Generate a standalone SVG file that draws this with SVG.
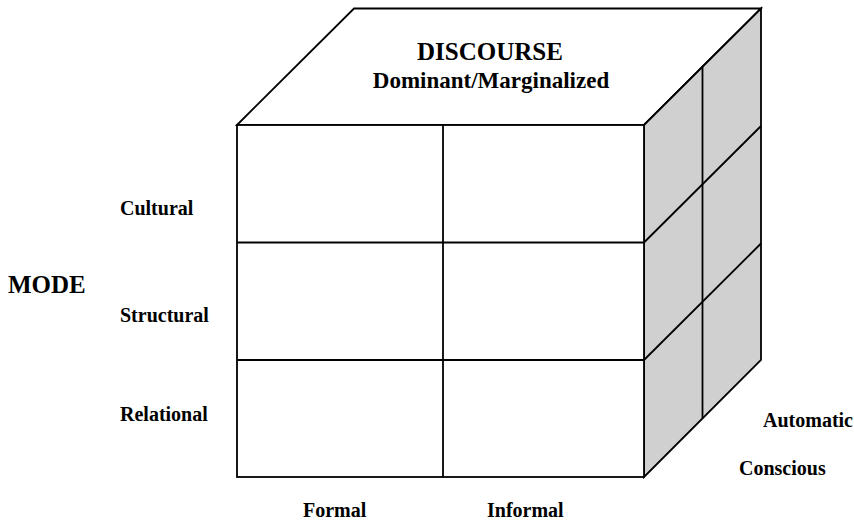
<svg xmlns="http://www.w3.org/2000/svg" width="854" height="523" viewBox="0 0 854 523">
  <style>
    .edge { fill: none; stroke: #000; stroke-width: 1.8; stroke-linejoin: miter; }
    .face { stroke: #000; stroke-width: 1.8; stroke-linejoin: miter; }
    .lbl { font-family: "Liberation Serif", "Times New Roman", serif; font-weight: bold; fill: #000; }
    .axis { font-size: 25px; }
    .tick { font-size: 20px; }
  </style>
  <rect width="854" height="523" fill="#fff"/>

  <!-- Top face: discourse -->
  <g id="top-face">
    <polygon class="face" fill="#fff" points="237,125 354,8.5 761,8.5 644,125"/>
    <text class="lbl axis" x="490" y="60" text-anchor="middle">DISCOURSE</text>
    <text class="lbl" font-size="23" x="491" y="88" text-anchor="middle">Dominant/Marginalized</text>
  </g>

  <!-- Right face: automatic / conscious -->
  <g id="side-face">
    <polygon class="face" fill="#d0d0d0" points="644,125 761,8.5 761,360 644,477"/>
    <line class="edge" x1="702.5" y1="66.75" x2="702.5" y2="418.5"/>
    <line class="edge" x1="644" y1="242.5" x2="761" y2="126"/>
    <line class="edge" x1="644" y1="360" x2="761" y2="243.5"/>
  </g>

  <!-- Front face: mode x formal/informal grid -->
  <g id="front-face">
    <rect class="face" fill="#fff" x="237" y="125" width="407" height="352"/>
    <line class="edge" x1="443" y1="125" x2="443" y2="477"/>
    <line class="edge" x1="237" y1="242.5" x2="644" y2="242.5"/>
    <line class="edge" x1="237" y1="360" x2="644" y2="360"/>
  </g>

  <!-- Mode axis labels -->
  <g id="mode-labels">
    <text class="lbl axis" x="8" y="293">MODE</text>
    <text class="lbl tick" x="120" y="215">Cultural</text>
    <text class="lbl tick" x="120" y="322">Structural</text>
    <text class="lbl tick" x="120" y="421">Relational</text>
  </g>

  <!-- Formality labels -->
  <g id="formality-labels">
    <text class="lbl tick" x="303" y="517">Formal</text>
    <text class="lbl tick" x="487" y="517">Informal</text>
  </g>

  <!-- Awareness labels -->
  <g id="awareness-labels">
    <text class="lbl tick" x="763" y="427">Automatic</text>
    <text class="lbl tick" x="739" y="475">Conscious</text>
  </g>
</svg>
